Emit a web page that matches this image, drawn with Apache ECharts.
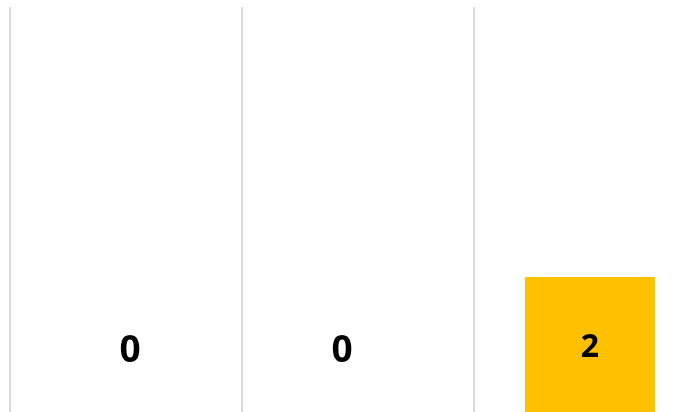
<!DOCTYPE html>
<html>
<head>
    <meta charset="utf-8">
    <script src="https://cdn.jsdelivr.net/npm/echarts@6/dist/echarts.min.js"></script>
    <style>
        html, body { margin: 0; padding: 0; background: #fff; overflow: hidden; }
        /* the plot runs past the right edge of the picture, so the canvas is wider than the window */
        #main { width: 720px; height: 412px; }
    </style>
</head>
<body>
<div id="main"></div>
<script type="text/javascript">
    // categories are not shown in the picture
    var categories = ['1', '2', '3'];
    var values = [0, 0, 2];
    var yMax = 6;

    // label nudges for each column (the picture puts the zeros off-centre)
    var labelOffsets = [[4, 0], [-16, 0], [0, 3]];

    var myChart = echarts.init(document.getElementById('main'));

    var barData = [];
    for (var i = 0; i < values.length; i++) {
        var isZero = values[i] === 0;
        barData.push({
            value: values[i],
            label: {
                position: isZero ? 'insideBottom' : 'inside',
                distance: isZero ? 42 : 5,
                offset: labelOffsets[i],
                fontSize: isZero ? 37 : 32
            }
        });
    }

    var option = {
        backgroundColor: '#fff',
        animation: false,
        grid: {
            left: 10,
            top: 7,
            bottom: 0,
            width: 696
        },
        xAxis: {
            type: 'category',
            data: categories,
            boundaryGap: true,
            axisLine: { show: false },
            axisTick: { show: false },
            axisLabel: { show: false },
            splitLine: {
                show: true,
                lineStyle: { color: '#d9d9d9', width: 2 }
            }
        },
        yAxis: {
            type: 'value',
            min: 0,
            max: yMax,
            show: false,
            splitLine: { show: false }
        },
        series: [{
            type: 'bar',
            data: barData,
            barWidth: 130,
            itemStyle: { color: '#ffc000' },
            label: {
                show: true,
                color: '#000',
                fontWeight: 'bold',
                fontFamily: 'Open Sans'
            }
        }]
    };
    myChart.setOption(option);
</script>
</body>
</html>
